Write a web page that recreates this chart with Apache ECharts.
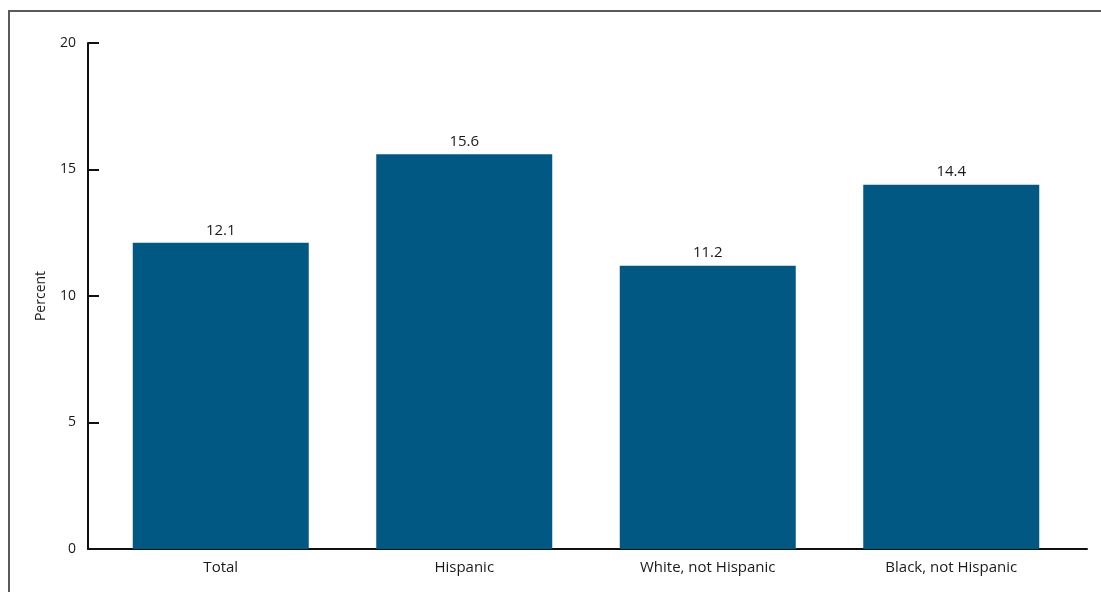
<!DOCTYPE html>
<html><head><meta charset="utf-8">
<script src="https://cdn.jsdelivr.net/npm/echarts@6/dist/echarts.min.js"></script>
<style>
html,body{margin:0;padding:0;background:#fff;}
#frame{position:absolute;left:8px;top:10px;right:-10px;bottom:-10px;border-left:2px solid #5a5a5a;border-top:2px solid #5a5a5a;}
#c{position:absolute;left:0;top:0;width:1101px;height:592px;}
</style></head>
<body>
<div id="frame"></div>
<div id="c"></div>
<script>
var categories = ["Total", "Hispanic", "White, not Hispanic", "Black, not Hispanic"];
var values = [12.1, 15.6, 11.2, 14.4];
var yTicks = [0, 5, 10, 15, 20];

var font = "'Open Sans', 'Noto Sans', sans-serif";
var chart = echarts.init(document.getElementById('c'), null, {renderer: 'canvas'});
chart.setOption({
  animation: false,
  grid: [
    {left: 99, right: 28, top: 43, bottom: 43},
    {left: 88, right: 14, top: 43, bottom: 43}
  ],
  xAxis: [{
    type: 'category', data: categories, gridIndex: 0,
    axisLine: {show: false}, axisTick: {show: false},
    axisLabel: {color: '#1a1a1a', fontSize: 15, fontFamily: font, margin: 11}
  }, {
    type: 'category', data: categories, gridIndex: 1,
    axisLine: {show: true, lineStyle: {color: '#111', width: 2}},
    axisTick: {show: false}, axisLabel: {show: false}
  }],
  yAxis: [{
    type: 'value', min: yTicks[0], max: yTicks[yTicks.length - 1], interval: 5, gridIndex: 0,
    offset: 11,
    name: 'Percent', nameLocation: 'middle', nameGap: 40, nameRotate: 90,
    nameTextStyle: {color: '#1a1a1a', fontSize: 14, fontFamily: font},
    axisLine: {show: true, lineStyle: {color: '#111', width: 2}},
    axisTick: {show: true, inside: true, length: 11, lineStyle: {color: '#111', width: 2}},
    axisLabel: {color: '#1a1a1a', fontSize: 14, fontFamily: font, margin: 12},
    splitLine: {show: false}
  }, {
    type: 'value', min: 0, max: 20, gridIndex: 1, show: false
  }],
  series: [{
    type: 'bar', data: values, barWidth: 176,
    xAxisIndex: 0, yAxisIndex: 0,
    itemStyle: {color: '#005883'},
    label: {show: true, position: 'top', distance: 5, color: '#1a1a1a', fontSize: 15, fontFamily: font,
      formatter: function (p) { return p.value.toFixed(1); }}
  }]
});
</script>
</body></html>
